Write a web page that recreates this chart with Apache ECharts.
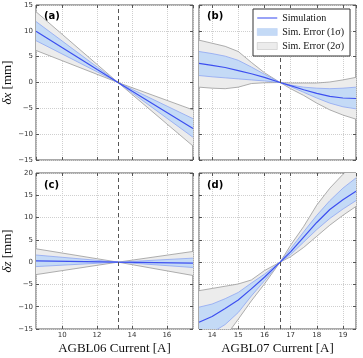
<!DOCTYPE html>
<html>
<head>
<meta charset="utf-8">
<script src="https://cdn.jsdelivr.net/npm/echarts@6/dist/echarts.min.js"></script>
<style>
  html, body { margin: 0; padding: 0; background: #fff; }
  #chart { width: 363px; height: 358px; }
</style>
</head>
<body>
<div id="chart"></div>
<script>
// AGBL06 scan (panels a, c)
var xAC = [8.5, 13.2, 17.5];
var aSim = [9.9, 0, -8.9];
var aUp1 = [11.8, 0, -7.0];
var aLo1 = [8.1, 0, -10.6];
var aUp2 = [13.7, 0, -5.3];
var aLo2 = [6.2, 0, -12.3];

var cSim = [0.3, 0, -0.2];
var cUp1 = [1.6, 0, 0.9];
var cLo1 = [-1.0, 0, -1.2];
var cUp2 = [3.0, 0, 2.4];
var cLo2 = [-2.8, 0, -3.0];

// AGBL07 scan (panels b, d)
var xBD = [13.5, 14, 14.5, 15, 15.5, 16, 16.6, 17, 17.5, 18, 18.5, 19, 19.5];
var bSim = [3.7, 3.3, 2.9, 2.3, 1.7, 1.0, 0, -0.6, -1.4, -2.1, -2.7, -3.0, -3.1];
var bUp1 = [6.0, 5.6, 5.1, 4.3, 3.0, 1.6, 0, -0.5, -0.9, -1.1, -1.2, -1.1, -0.9];
var bLo1 = [1.35, 1.1, 0.9, 0.7, 0.5, 0.3, 0, -0.8, -1.9, -3.0, -4.0, -4.7, -5.1];
var bUp2 = [8.2, 7.6, 7.0, 6.0, 3.9, 1.9, 0, -0.1, -0.1, -0.1, 0.1, 0.5, 1.0];
var bLo2 = [-0.9, -1.1, -1.2, -0.9, -0.2, -0.05, 0, -1.2, -2.5, -4.0, -5.3, -6.3, -7.1];

var dSim = [-13.5, -12.2, -10.4, -8.5, -6.0, -3.4, 0, 2.3, 5.6, 8.9, 11.8, 14.0, 15.9];
var dUp1 = [-10.1, -9.4, -8.2, -6.8, -4.7, -2.7, 0, 3.0, 6.8, 10.5, 13.8, 16.6, 18.9];
var dLo1 = [-17.5, -15.8, -14.0, -11.3, -7.6, -4.2, 0, 1.7, 4.5, 7.3, 9.8, 11.9, 13.8];
var dUp2 = [-6.4, -5.9, -5.4, -4.9, -4.0, -1.9, 0, 3.8, 8.0, 12.8, 16.6, 19.7, 22.6];
var dLo2 = [-22.0, -19.5, -16.8, -12.8, -8.7, -4.9, 0, 1.2, 3.3, 5.8, 8.3, 10.5, 12.5];

var centers = [13.2, 16.6, 13.2, 16.6];
var panelLabels = ['(a)', '(b)', '(c)', '(d)'];

var SIM = 'Simulation', E1 = 'Sim. Error (1σ)', E2 = 'Sim. Error (2σ)';
var blue = '#3d4ff0', fill1 = '#c4daf6', edge1 = '#8ea6f2', fill2 = '#ececec', edge2 = '#9a9a9a';

function pairs(xs, ys) {
    return xs.map(function (x, i) { return [x, ys[i]]; });
}

var grids = [
    {left: 36, top: 5, width: 157, height: 155},
    {left: 199, top: 5, width: 157, height: 155},
    {left: 36, top: 173, width: 157, height: 156},
    {left: 199, top: 173, width: 157, height: 156}
];
grids.forEach(function (g) {
    g.show = true; g.borderColor = '#555'; g.borderWidth = 1; g.backgroundColor = '#fff';
});

var tickFont = {fontFamily: 'DejaVu Sans', fontSize: 7, color: '#333'};
function minus(v) { return String(v).replace('-', '\u2212'); }
var tick = {inside: true, length: 3, lineStyle: {color: '#555'}};
var noLine = {show: false, onZero: false};

var xAxes = [], yAxes = [];
for (var k = 0; k < 4; k++) {
    var left = (k % 2 === 0), bottom = (k >= 2);
    var xr = {min: left ? 8.5 : 13.5, max: left ? 17.5 : 19.5};
    var yr = {min: -15, max: bottom ? 20 : 15, interval: 5};
    xAxes.push(Object.assign({
        type: 'value', gridIndex: k, position: 'bottom',
        axisLine: noLine, axisTick: tick,
        axisLabel: Object.assign({show: bottom, margin: 3, showMinLabel: false, showMaxLabel: false, formatter: minus}, tickFont),
        splitLine: {lineStyle: {color: '#cfcfcf', type: 'dotted'}},
        name: bottom ? (left ? 'AGBL06 Current [A]' : 'AGBL07 Current [A]') : '',
        nameLocation: 'middle', nameGap: 13,
        nameTextStyle: {fontFamily: 'Liberation Serif', fontSize: 13, color: '#111'}
    }, xr));
    yAxes.push(Object.assign({
        type: 'value', gridIndex: k, position: 'left',
        axisLine: noLine, axisTick: tick,
        axisLabel: Object.assign({show: left, margin: 3, formatter: minus}, tickFont),
        splitLine: {lineStyle: {color: '#cfcfcf', type: 'dotted'}},
        name: left ? (bottom ? '{i|δz} [mm]' : '{i|δx} [mm]') : '',
        nameLocation: 'middle', nameGap: 20,
        nameTextStyle: {fontFamily: 'Liberation Serif', fontSize: 13, color: '#111',
            rich: {i: {fontFamily: 'Liberation Serif', fontSize: 13, fontStyle: 'italic', color: '#111'}}}
    }, yr));
}
// tick marks on the top and right spines
for (var m = 0; m < 4; m++) {
    xAxes.push(Object.assign({}, xAxes[m], {position: 'top', name: '', axisLabel: {show: false}, splitLine: {show: false}}));
    yAxes.push(Object.assign({}, yAxes[m], {position: 'right', name: '', axisLabel: {show: false}, splitLine: {show: false}}));
}

var panels = [
    {x: xAC, sim: aSim, up1: aUp1, lo1: aLo1, up2: aUp2, lo2: aLo2},
    {x: xBD, sim: bSim, up1: bUp1, lo1: bLo1, up2: bUp2, lo2: bLo2},
    {x: xAC, sim: cSim, up1: cUp1, lo1: cLo1, up2: cUp2, lo2: cLo2},
    {x: xBD, sim: dSim, up1: dUp1, lo1: dLo1, up2: dUp2, lo2: dLo2}
];

// filled band between lo and up, drawn as one polygon through the axes
function band(name, xs, lo, up, color, k) {
    return {
        type: 'custom', name: name, xAxisIndex: k, yAxisIndex: k,
        clip: true, silent: true, itemStyle: {color: color},
        data: [[xs[0], lo[0]]],
        renderItem: function (params, api) {
            var pts = [];
            for (var i = 0; i < xs.length; i++) pts.push(api.coord([xs[i], lo[i]]));
            for (var j = xs.length - 1; j >= 0; j--) pts.push(api.coord([xs[j], up[j]]));
            return {type: 'polygon', shape: {points: pts}, style: {fill: color}};
        }
    };
}
function edge(xs, ys, color, k) {
    return {
        type: 'line', name: 'edge', xAxisIndex: k, yAxisIndex: k, symbol: 'none',
        silent: true, clip: true, data: pairs(xs, ys),
        lineStyle: {color: color, width: 0.8}
    };
}

var series = [];
panels.forEach(function (p, k) {
    series.push(band(E2, p.x, p.lo2, p.up2, fill2, k));
    series.push(edge(p.x, p.lo2, edge2, k));
    series.push(edge(p.x, p.up2, edge2, k));
    series.push(band(E1, p.x, p.lo1, p.up1, fill1, k));
    series.push(edge(p.x, p.lo1, edge1, k));
    series.push(edge(p.x, p.up1, edge1, k));
    series.push({
        type: 'line', name: SIM, xAxisIndex: k, yAxisIndex: k, symbol: 'none',
        silent: true, clip: true, data: pairs(p.x, p.sim),
        lineStyle: {color: blue, width: 1.2},
        itemStyle: {color: blue},
        markLine: {
            silent: true, symbol: ['none', 'none'], label: {show: false},
            lineStyle: {color: '#555', type: [4, 3], width: 1},
            data: [{xAxis: centers[k]}]
        }
    });
});

var labelPos = [[44, 11], [207, 11], [44, 180], [207, 180]];
var graphics = panelLabels.map(function (t, k) {
    return {type: 'text', left: labelPos[k][0], top: labelPos[k][1], z: 10,
        style: {text: t, font: 'bold 10px "DejaVu Sans"', fill: '#000'}};
});

var chart = echarts.init(document.getElementById('chart'));
chart.setOption({
    animation: false,
    grid: grids,
    xAxis: xAxes,
    yAxis: yAxes,
    legend: {
        show: true, z: 10,
        left: 253, top: 9, orient: 'vertical',
        backgroundColor: '#fff', borderColor: '#333', borderWidth: 1,
        padding: [4, 6, 5, 4], itemGap: 4, itemWidth: 20, itemHeight: 7,
        selectedMode: false,
        textStyle: {fontFamily: 'Liberation Serif', fontSize: 10, color: '#111'},
        data: [
            {name: SIM, icon: 'path://M0,0L20,0L20,1.6L0,1.6Z', itemStyle: {color: '#7f8cf5'}},
            {name: E1, icon: 'rect', itemStyle: {color: fill1, borderColor: '#b7cdf3', borderWidth: 0.5}},
            {name: E2, icon: 'rect', itemStyle: {color: fill2, borderColor: '#bbb', borderWidth: 0.5}}
        ]
    },
    graphic: graphics,
    series: series
});
</script>
</body>
</html>
